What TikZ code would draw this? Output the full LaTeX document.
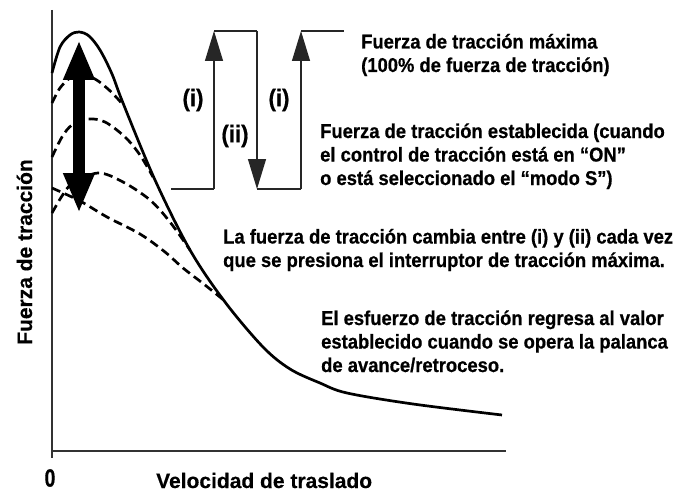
\documentclass[tikz,border=0pt]{standalone}
\usepackage{fontspec}
\setmainfont{Liberation Sans}[FakeStretch=0.92, FakeBold=0.6]
\newfontfamily\axisfont{Liberation Sans}[FakeBold=0.4]
\usetikzlibrary{arrows.meta, positioning}

\begin{document}
\begin{tikzpicture}[
      x=1pt,y=-1pt,
      txt/.style={font=\fontsize{20}{23.5}\selectfont\bfseries, align=left, inner sep=0pt, anchor=base west},
      lbl/.style={font=\fontsize{24}{24}\selectfont\bfseries, inner sep=0pt},
      axislbl/.style={font=\axisfont\fontsize{21}{21}\selectfont\bfseries, inner sep=0pt},
      axisline/.style={line width=1.5pt, draw=black!80},
      stepline/.style={line width=1.2pt, draw=black!85},
      steptip/.style={-{Triangle[length=30pt,width=18pt]}},
      curve/.style={line width=2.7pt},
      dcurve/.style={line width=2.7pt, dash pattern=on 9pt off 5pt}
      ]
      \useasboundingbox (0,0) rectangle (698,492);

      \coordinate (ytop)   at (52,10);
      \coordinate (ybot)   at (52,458);
      \coordinate (origin) at (52,451);
      \coordinate (xend)   at (506,451);
      \draw[axisline] (ytop) -- (ybot);
      \draw[axisline] (origin) -- (xend);

      \node[lbl, font=\fontsize{25}{25}\selectfont\bfseries, xscale=0.85] (zero) at (50,478) {0};
      \node[axislbl, anchor=base west]    (xlbl)  at (156,488) {Velocidad de traslado};
      \node[axislbl, anchor=base, rotate=90] (ylbl) at (32,252) {Fuerza de tracción};

      \draw[dcurve] plot[smooth, tension=0.55] coordinates {(52,103) (60,88) (70,78) (80,74) (95,79) (108,89) (117,98) (124,106)};
      \draw[dcurve] plot[smooth, tension=0.55] coordinates {(52,157) (62,137) (72,125) (88,119) (105,122) (125,137) (140,155) (153,177)};
      \draw[dcurve] plot[smooth, tension=0.55] coordinates {(52,213) (62,196) (72,184) (98,173) (123,182) (150,200) (170,222) (190,250)};
      \draw[dcurve] plot[smooth, tension=0.55] coordinates {(52,188) (80,201) (107,217) (140,234) (165,252) (183,268) (205,285) (226,302)};
      \draw[curve] plot[smooth, tension=0.55] coordinates {(52,73) (60,47) (70,35) (79,32) (89,36) (100,50) (112,74) (123,103)
          (155,180) (190,250) (225,302) (263,347) (290,369) (320,383) (347,393) (413,404) (502,415)};

      \coordinate (armbot) at (79,213);
      \coordinate (armtop) at (79,40);
      \draw[line width=12pt, {Triangle[length=40pt,width=29pt]}-{Triangle[length=40pt,width=29pt]}] (armbot) -- (armtop);

      \coordinate (s0) at (171,189);
      \coordinate (s1) at (214,189);
      \coordinate (s2) at (214,31);
      \coordinate (s3) at (257,31);
      \coordinate (s4) at (257,189);
      \coordinate (s5) at (301,189);
      \coordinate (s6) at (301,31);
      \coordinate (s7) at (344,31);
      \draw[stepline] (s0) -- (s1);
      \draw[stepline, steptip] (s1) -- (s2);
      \draw[stepline] (s2) -- (s3);
      \draw[stepline, steptip] (s3) -- (s4);
      \draw[stepline] (s4) -- (s5);
      \draw[stepline, steptip] (s5) -- (s6);
      \draw[stepline] (s6) -- (s7);

      \node[lbl] (up1)   at (193,100) {(i)};
      \node[lbl] (down1) at (235,136) {(ii)};
      \node[lbl] (up2)   at (279,100) {(i)};

      \node[txt] (maxforce) at (361,72)  {Fuerza de tracción máxima\\(100\% de fuerza de tracción)};
      \node[txt] (setforce) at (320,185) {Fuerza de tracción establecida (cuando\\el control de tracción está en “ON”\\o está seleccionado el “modo S”)};
      \node[txt] (toggle)   at (223,267) {La fuerza de tracción cambia entre (i) y (ii) cada vez\\que se presiona el interruptor de tracción máxima.};
      \node[txt] (reset)    at (321,372) {El esfuerzo de tracción regresa al valor\\establecido cuando se opera la palanca\\de avance/retroceso.};
    \end{tikzpicture}
\end{document}
